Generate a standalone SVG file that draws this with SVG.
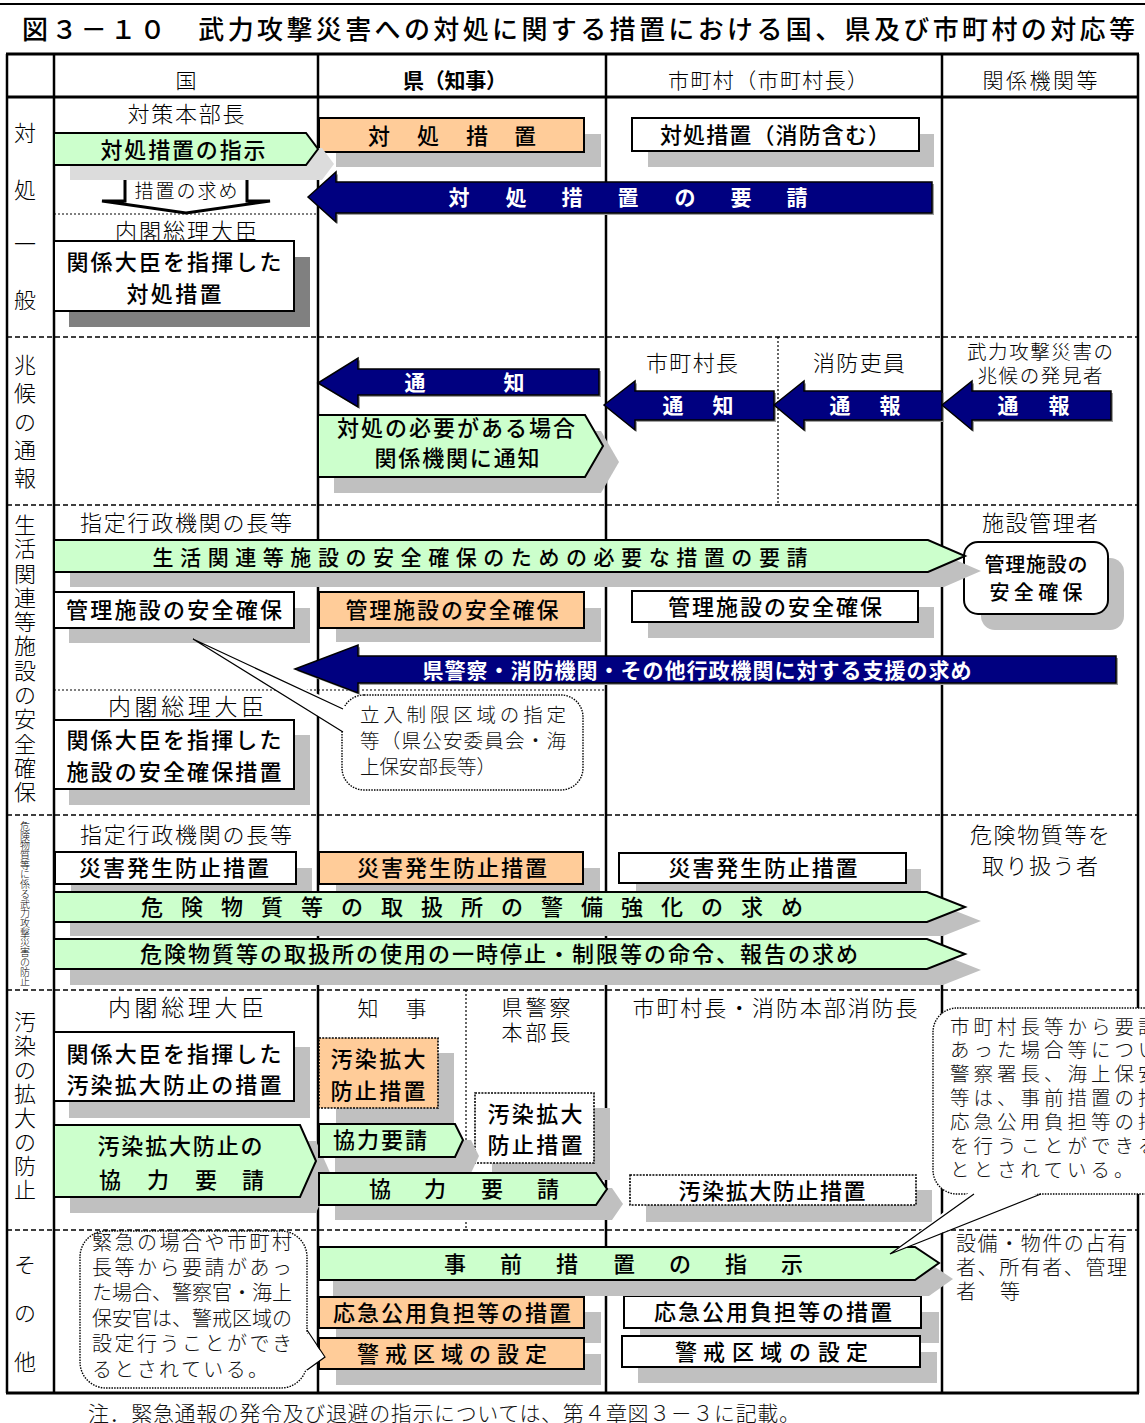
<svg xmlns="http://www.w3.org/2000/svg" width="1145" height="1423" viewBox="0 0 1145 1423">
<defs>
<style>
text{font-family:"Liberation Sans","Noto Sans CJK JP",sans-serif;dominant-baseline:central}
.t{font-size:22px;font-weight:300;text-anchor:middle;fill:#000}
.s{font-size:19.5px;font-weight:300;fill:#111}
.b{font-size:21px;font-weight:500;text-anchor:middle;fill:#000}
.w{font-size:21px;font-weight:700;text-anchor:middle;fill:#fff}
.v{font-size:22px;font-weight:300;text-anchor:middle;fill:#000}
.sh{fill:#c0c0c0}
.sh2{fill:#808080}
.sh3{fill:#dcdcdc}
.nvs{fill:#a0a0a0}
.g{fill:#ccffcc;stroke:#000;stroke-width:2}
.o{fill:#ffcc99;stroke:#000;stroke-width:2}
.wb{fill:#fff;stroke:#000;stroke-width:2}
.od{fill:#ffcc99;stroke:#000;stroke-width:1.6;stroke-dasharray:2 1.2}
.wd{fill:#fff;stroke:#000;stroke-width:1.6;stroke-dasharray:2 1.2}
.nv{fill:#000080;stroke:#000;stroke-width:1.5}
.cl{fill:#fff;stroke:#000;stroke-width:1.4;stroke-dasharray:1.5 1.2}
.pl{fill:none;stroke:#000;stroke-width:1.2}
.col{stroke:#000;stroke-width:2.5}
.dash{stroke:#000;stroke-width:1.5;stroke-dasharray:5 3}
.dot{stroke:#000;stroke-width:1.2;stroke-dasharray:2 2}
</style>
</defs>
<rect x="0" y="0" width="1145" height="1423" fill="#fff"/>

<g id="title">
<line x1="0" y1="4" x2="1145" y2="4" stroke="#000" stroke-width="2"/>
<text x="22" y="30" style="font-size:26px;font-weight:500" textLength="1113">図３－１０　武力攻撃災害への対処に関する措置における国、県及び市町村の対応等</text>
</g>

<g id="grid">
<line class="dash" x1="7" y1="337" x2="1138" y2="337"/>
<line class="dash" x1="7" y1="505" x2="1138" y2="505"/>
<line class="dash" x1="7" y1="815" x2="1138" y2="815"/>
<line class="dash" x1="7" y1="990" x2="1138" y2="990"/>
<line class="dash" x1="7" y1="1230" x2="1138" y2="1230"/>
<line class="dot" x1="54" y1="214" x2="318" y2="214"/>
<line class="dot" x1="54" y1="690" x2="606" y2="690"/>
<line class="dot" x1="778" y1="337" x2="778" y2="505"/>
<line class="dot" x1="466" y1="990" x2="466" y2="1230"/>
<line class="col" x1="7" y1="54" x2="7" y2="1393"/>
<line class="col" x1="54" y1="54" x2="54" y2="1393"/>
<line class="col" x1="318" y1="54" x2="318" y2="1393"/>
<line class="col" x1="606" y1="54" x2="606" y2="1393"/>
<line class="col" x1="942" y1="54" x2="942" y2="1393"/>
<line class="col" x1="1138" y1="54" x2="1138" y2="1393"/>
<line x1="6" y1="54" x2="1139" y2="54" stroke="#000" stroke-width="3"/>
<line x1="6" y1="97" x2="1139" y2="97" stroke="#000" stroke-width="3"/>
<line x1="6" y1="1393" x2="1139" y2="1393" stroke="#000" stroke-width="3"/>
</g>

<g id="headers">
<text class="t" x="186" y="80" style="font-size:21px">国</text>
<text class="t" x="455" y="80" style="font-size:21px;font-weight:700" textLength="104">県（知事）</text>
<text class="t" x="768" y="80" style="font-size:21px" textLength="200">市町村（市町村長）</text>
<text class="t" x="1040" y="80" style="font-size:21px" textLength="115">関係機関等</text>
</g>

<g id="row-labels">
<text class="v" x="25" y="133">対</text>
<text class="v" x="25" y="190">処</text>
<text class="v" x="25" y="244">一</text>
<text class="v" x="25" y="300">般</text>
<text class="v" x="25" y="365">兆</text>
<text class="v" x="25" y="393">候</text>
<text class="v" x="25" y="422">の</text>
<text class="v" x="25" y="450">通</text>
<text class="v" x="25" y="478">報</text>
<text class="v" x="25" y="525">生</text>
<text class="v" x="25" y="549">活</text>
<text class="v" x="25" y="574">関</text>
<text class="v" x="25" y="598">連</text>
<text class="v" x="25" y="622">等</text>
<text class="v" x="25" y="646">施</text>
<text class="v" x="25" y="671">設</text>
<text class="v" x="25" y="695">の</text>
<text class="v" x="25" y="719">安</text>
<text class="v" x="25" y="744">全</text>
<text class="v" x="25" y="768">確</text>
<text class="v" x="25" y="792">保</text>
<g style="font-size:10px">
<text class="v" style="font-size:10px" x="25" y="826">危</text>
<text class="v" style="font-size:10px" x="25" y="836">険</text>
<text class="v" style="font-size:10px" x="25" y="845">物</text>
<text class="v" style="font-size:10px" x="25" y="855">質</text>
<text class="v" style="font-size:10px" x="25" y="865">等</text>
<text class="v" style="font-size:10px" x="25" y="874">に</text>
<text class="v" style="font-size:10px" x="25" y="884">係</text>
<text class="v" style="font-size:10px" x="25" y="894">る</text>
<text class="v" style="font-size:10px" x="25" y="904">武</text>
<text class="v" style="font-size:10px" x="25" y="913">力</text>
<text class="v" style="font-size:10px" x="25" y="923">攻</text>
<text class="v" style="font-size:10px" x="25" y="933">撃</text>
<text class="v" style="font-size:10px" x="25" y="942">災</text>
<text class="v" style="font-size:10px" x="25" y="952">害</text>
<text class="v" style="font-size:10px" x="25" y="962">の</text>
<text class="v" style="font-size:10px" x="25" y="972">防</text>
<text class="v" style="font-size:10px" x="25" y="981">止</text>
</g>
<text class="v" x="25" y="1022">汚</text>
<text class="v" x="25" y="1046">染</text>
<text class="v" x="25" y="1070">の</text>
<text class="v" x="25" y="1094">拡</text>
<text class="v" x="25" y="1118">大</text>
<text class="v" x="25" y="1142">の</text>
<text class="v" x="25" y="1166">防</text>
<text class="v" x="25" y="1190">止</text>
<text class="v" x="25" y="1265">そ</text>
<text class="v" x="25" y="1313">の</text>
<text class="v" x="25" y="1362">他</text>
</g>

<g id="role-labels">
<text class="t" x="186" y="114" textLength="117">対策本部長</text>
<text class="t" x="186" y="231" textLength="142">内閣総理大臣</text>
<text class="t" x="692" y="363" textLength="92">市町村長</text>
<text class="t" x="859" y="363" textLength="92">消防吏員</text>
<text class="t" x="1040" y="352" style="font-size:19.5px" textLength="146">武力攻撃災害の</text>
<text class="t" x="1040" y="376" style="font-size:19.5px" textLength="125">兆候の発見者</text>
<text class="t" x="186" y="523" textLength="212">指定行政機関の長等</text>
<text class="t" x="1040" y="523" textLength="116">施設管理者</text>
<text class="t" x="186" y="707" style="font-size:23px" textLength="156">内閣総理大臣</text>
<text class="t" x="186" y="835" textLength="212">指定行政機関の長等</text>
<text class="t" x="1040" y="835" textLength="140">危険物質等を</text>
<text class="t" x="1040" y="866" textLength="116">取り扱う者</text>
<text class="t" x="186" y="1008" style="font-size:23px" textLength="156">内閣総理大臣</text>
<text class="t" x="368 416" y="1008" style="font-size:21px">知事</text>
<text class="t" x="536" y="1007" style="font-size:21px" textLength="69">県警察</text>
<text class="t" x="536" y="1032" style="font-size:21px" textLength="69">本部長</text>
<text class="t" x="775" y="1008" textLength="285">市町村長・消防本部消防長</text>
<text class="s" x="956" y="1244" style="font-size:20px" textLength="171">設備・物件の占有</text>
<text class="s" x="956" y="1268" style="font-size:20px" textLength="171">者、所有者、管理</text>
<text class="s" x="956 1000" y="1292" style="font-size:20px">者等</text>
</g>

<g id="node-kuni-sochi-motome">
<path class="wb" style="stroke-width:3" d="M125,160 V201 H102 L186,213 L270,201 H247 V160 Z"/>
<text class="t" x="186" y="191" style="font-size:19px" textLength="103">措置の求め</text>
</g>

<g id="node-kuni-taisho">
<rect class="sh2" x="69" y="257" width="241" height="70"/>
<rect class="wb" x="54" y="241" width="240" height="70"/>
<text class="b" x="174" y="262" style="font-size:22px" textLength="215">関係大臣を指揮した</text>
<text class="b" x="174" y="294" style="font-size:22px" textLength="95">対処措置</text>
</g>

<g id="node-ken-taisho">
<rect class="sh" x="336" y="134" width="265" height="33"/>
<rect class="o" x="319" y="118" width="265" height="34"/>
<text class="b" x="379 428 477 525" y="136" style="font-size:22px">対処措置</text>
</g>

<g id="node-shi-taisho">
<rect class="sh" x="648" y="134" width="286" height="33"/>
<rect class="wb" x="632" y="118" width="287" height="33"/>
<text class="b" x="775" y="135" style="font-size:22px" textLength="230">対処措置（消防含む）</text>
</g>

<g id="node-kuni-kanri">
<rect class="sh" x="69" y="608" width="241" height="35"/>
<rect class="wb" x="54" y="592" width="240" height="36"/>
<text class="b" x="174" y="610" style="font-size:22px" textLength="216">管理施設の安全確保</text>
</g>
<g id="node-ken-kanri">
<rect class="sh" x="336" y="608" width="265" height="34"/>
<rect class="o" x="319" y="592" width="265" height="36"/>
<text class="b" x="452" y="610" style="font-size:22px" textLength="213">管理施設の安全確保</text>
</g>
<g id="node-shi-kanri">
<rect class="sh" x="648" y="607" width="286" height="31"/>
<rect class="wb" x="632" y="591" width="286" height="31"/>
<text class="b" x="775" y="607" style="font-size:22px" textLength="214">管理施設の安全確保</text>
</g>
<g id="node-kankei-kanri">
<rect class="sh" x="981" y="558" width="143" height="72" rx="14"/>
<rect class="wb" x="964" y="542" width="144" height="72" rx="14"/>
<text class="b" x="1036" y="565" style="font-size:20px" textLength="103">管理施設の</text>
<text class="b" x="1036" y="593" style="font-size:20px" textLength="93">安全確保</text>
</g>
<g id="node-kuni-shisetsu">
<rect class="sh" x="69" y="735" width="241" height="70"/>
<rect class="wb" x="54" y="720" width="240" height="69"/>
<text class="b" x="174" y="740" style="font-size:22px" textLength="215">関係大臣を指揮した</text>
<text class="b" x="174" y="772" style="font-size:22px" textLength="215">施設の安全確保措置</text>
</g>

<g id="node-kuni-saigai">
<rect class="sh" x="71" y="868" width="241" height="32"/>
<rect class="wb" x="55" y="852" width="241" height="32"/>
<text class="b" x="174" y="868" style="font-size:22px" textLength="190">災害発生防止措置</text>
</g>
<g id="node-ken-saigai">
<rect class="sh" x="336" y="868" width="264" height="32"/>
<rect class="o" x="319" y="852" width="264" height="32"/>
<text class="b" x="452" y="868" style="font-size:22px" textLength="190">災害発生防止措置</text>
</g>
<g id="node-shi-saigai">
<rect class="sh" x="636" y="869" width="285" height="30"/>
<rect class="wb" x="619" y="853" width="287" height="30"/>
<text class="b" x="763" y="868" style="font-size:22px" textLength="189">災害発生防止措置</text>
</g>

<g id="node-kuni-osen">
<rect class="sh" x="69" y="1047" width="241" height="71"/>
<rect class="wb" x="54" y="1032" width="240" height="69"/>
<text class="b" x="174" y="1054" style="font-size:22px" textLength="215">関係大臣を指揮した</text>
<text class="b" x="174" y="1085" style="font-size:22px" textLength="215">汚染拡大防止の措置</text>
</g>
<g id="node-ken-osen">
<rect class="sh" x="336" y="1053" width="118" height="71"/>
<rect class="od" x="319" y="1038" width="119" height="70"/>
<text class="b" x="378" y="1059" style="font-size:22px" textLength="95">汚染拡大</text>
<text class="b" x="378" y="1091" style="font-size:22px" textLength="95">防止措置</text>
</g>
<g id="node-keisatsu-osen">
<rect class="sh" x="492" y="1108" width="118" height="72"/>
<rect class="wd" x="475" y="1093" width="119" height="70"/>
<text class="b" x="535" y="1114" style="font-size:22px" textLength="95">汚染拡大</text>
<text class="b" x="535" y="1145" style="font-size:22px" textLength="95">防止措置</text>
</g>
<g id="node-shi-osen">
<rect class="sh" x="646" y="1190" width="286" height="32"/>
<rect class="wd" x="630" y="1175" width="286" height="30"/>
<text class="b" x="772" y="1191" style="font-size:22px" textLength="187">汚染拡大防止措置</text>
</g>

<g id="node-ken-oukyu">
<rect class="sh" x="336" y="1312" width="265" height="31"/>
<rect class="o" x="319" y="1297" width="265" height="31"/>
<text class="b" x="452" y="1313" style="font-size:22px" textLength="238">応急公用負担等の措置</text>
</g>
<g id="node-ken-keikai">
<rect class="sh" x="336" y="1354" width="265" height="31"/>
<rect class="o" x="319" y="1338" width="265" height="31"/>
<text class="b" x="368 396 424 452 480 508 536" y="1354" style="font-size:22px">警戒区域の設定</text>
</g>
<g id="node-shi-oukyu">
<rect class="sh" x="640" y="1312" width="299" height="31"/>
<rect class="wb" x="624" y="1296" width="297" height="32"/>
<text class="b" x="773" y="1312" style="font-size:22px" textLength="238">応急公用負担等の措置</text>
</g>
<g id="node-shi-keikai">
<rect class="sh" x="638" y="1352" width="299" height="31"/>
<rect class="wb" x="622" y="1336" width="298" height="31"/>
<text class="b" x="686 714 743 771 800 829 857" y="1352" style="font-size:22px">警戒区域の設定</text>
</g>

<g id="connectors">
<g id="arrow-shiji">
<path class="sh3" transform="translate(16,15)" d="M54,133 H306 L318,149 L306,165 H54 Z"/>
<path class="g" d="M54,133 H306 L318,149 L306,165 H54 Z"/>
<text class="b" x="183" y="150" style="font-size:22px" textLength="165">対処措置の指示</text>
</g>
<g id="arrow-yousei">
<path class="nvs" transform="translate(2,2)" d="M308,197 L336,172 V182 H932 V213 H336 V222 Z"/>
<path class="nv" d="M308,197 L336,172 V182 H932 V213 H336 V222 Z"/>
<text class="w" x="459 516 572 628 685 741 797" y="197">対処措置の要請</text>
</g>
<g id="arrow-ken-tsuchi">
<path class="nvs" transform="translate(2,2)" d="M318,383 L358,358 V369 H599 V395 H358 V407 Z"/>
<path class="nv" d="M318,383 L358,358 V369 H599 V395 H358 V407 Z"/>
<text class="w" x="415 514" y="382">通知</text>
</g>
<g id="arrow-ken-kankei">
<path class="sh" transform="translate(16,16)" d="M318,415 H585 L603,446 L585,477 H318 Z"/>
<path class="g" d="M318,415 H585 L603,446 L585,477 H318 Z"/>
<text class="b" x="456" y="428" style="font-size:22px" textLength="238">対処の必要がある場合</text>
<text class="b" x="457" y="458" style="font-size:22px" textLength="165">関係機関に通知</text>
</g>
<g id="arrow-shi-tsuchi">
<path class="nvs" transform="translate(2,2)" d="M604,405 L635,381 V391 H774 V420 H635 V430 Z"/>
<path class="nv" d="M604,405 L635,381 V391 H774 V420 H635 V430 Z"/>
<text class="w" x="673 723" y="405">通知</text>
</g>
<g id="arrow-shobo-tsuho">
<path class="nvs" transform="translate(2,2)" d="M774,405 L804,381 V391 H942 V420 H804 V430 Z"/>
<path class="nv" d="M774,405 L804,381 V391 H942 V420 H804 V430 Z"/>
<text class="w" x="840 890" y="405">通報</text>
</g>
<g id="arrow-hakken-tsuho">
<path class="nvs" transform="translate(2,2)" d="M942,405 L972,381 V391 H1111 V420 H972 V430 Z"/>
<path class="nv" d="M942,405 L972,381 V391 H1111 V420 H972 V430 Z"/>
<text class="w" x="1008 1059" y="405">通報</text>
</g>
<g id="arrow-seikatsu">
<path class="sh" transform="translate(16,15)" d="M54,540 H928 L965,556 L928,572 H54 Z"/>
<path class="g" d="M54,540 H928 L965,556 L928,572 H54 Z"/>
<text class="b" x="152.5" y="557" style="font-size:21px;text-anchor:start" textLength="655">生活関連等施設の安全確保のための必要な措置の要請</text>
</g>
<g id="arrow-shien">
<path class="nvs" transform="translate(2,2)" d="M295,669 L358,645 V656 H1116 V683 H358 V693 Z"/>
<path class="nv" d="M295,669 L358,645 V656 H1116 V683 H358 V693 Z"/>
<text class="w" x="697" y="670" textLength="549">県警察・消防機関・その他行政機関に対する支援の求め</text>
</g>
<g id="arrow-keibi">
<path class="sh" transform="translate(16,14)" d="M54,892 H927 L965,907 L927,922 H54 Z"/>
<path class="g" d="M54,892 H927 L965,907 L927,922 H54 Z"/>
<text class="b" x="152 192 232 272 312 352 392 432 472 512 552 592 632 672 712 752 792" y="907" style="font-size:22px">危険物質等の取扱所の警備強化の求め</text>
</g>
<g id="arrow-meirei">
<path class="sh" transform="translate(16,16)" d="M54,939 H927 L965,954 L927,969 H54 Z"/>
<path class="g" d="M54,939 H927 L965,954 L927,969 H54 Z"/>
<text class="b" x="499" y="954" style="font-size:22px" textLength="718">危険物質等の取扱所の使用の一時停止・制限等の命令、報告の求め</text>
</g>
<g id="arrow-kuni-kyoryoku">
<path class="sh" transform="translate(16,16)" d="M54,1125 H300 L316,1161 L300,1197 H54 Z"/>
<path class="g" d="M54,1125 H300 L316,1161 L300,1197 H54 Z"/>
<text class="b" x="180" y="1146" style="font-size:22px" textLength="165">汚染拡大防止の</text>
<text class="b" x="110 158 206 253" y="1180" style="font-size:22px">協力要請</text>
</g>
<g id="arrow-ken-kyoryoku1">
<path class="sh" transform="translate(16,16)" d="M319,1124 H455 L463,1140 L455,1157 H319 Z"/>
<path class="g" d="M319,1124 H455 L463,1140 L455,1157 H319 Z"/>
<text class="b" x="380" y="1140" style="font-size:22px" textLength="94">協力要請</text>
</g>
<g id="arrow-ken-kyoryoku2">
<path class="sh" transform="translate(16,15)" d="M319,1173 H596 L607,1189 L596,1205 H319 Z"/>
<path class="g" d="M319,1173 H596 L607,1189 L596,1205 H319 Z"/>
<text class="b" x="380 435 492 548" y="1189" style="font-size:22px">協力要請</text>
</g>
<g id="arrow-jizen">
<path class="sh" transform="translate(14,16)" d="M319,1247 H915 L939,1263 L915,1280 H319 Z"/>
<path class="g" d="M319,1247 H915 L939,1263 L915,1280 H319 Z"/>
<text class="b" x="455 511 567 624 680 736 792" y="1264" style="font-size:22px">事前措置の指示</text>
</g>
</g>

<g id="callout-kuiki">
<rect class="cl" x="342" y="695" width="241" height="95" rx="22"/>
<polygon points="193,639 347,707 347,734" fill="#fff"/>
<polyline class="pl" points="343,709 193,639 343,732"/>
<text class="s" x="360" y="715" textLength="206">立入制限区域の指定</text>
<text class="s" x="360" y="741" textLength="206">等（県公安委員会・海</text>
<text class="s" x="360" y="767" textLength="136">上保安部長等）</text>
</g>

<g id="callout-keikai">
<rect class="cl" x="80" y="1231" width="227" height="157" rx="26"/>
<polygon points="304,1329 325,1357 304,1371" fill="#fff"/>
<polyline class="pl" points="307,1330 325,1357 307,1370"/>
<text class="s" x="92" y="1243" style="font-size:20px" textLength="200">緊急の場合や市町村</text>
<text class="s" x="92" y="1268" style="font-size:20px" textLength="200">長等から要請があっ</text>
<text class="s" x="92" y="1293" style="font-size:20px" textLength="200">た場合、警察官・海上</text>
<text class="s" x="92" y="1319" style="font-size:20px" textLength="200">保安官は、警戒区域の</text>
<text class="s" x="92" y="1344" style="font-size:20px" textLength="200">設定行うことができ</text>
<text class="s" x="92" y="1370" style="font-size:20px" textLength="176">るとされている。</text>
</g>

<g id="callout-jizen">
<rect class="cl" x="933" y="1008" width="240" height="186" rx="24"/>
<polygon points="971,1191 1044,1191 890,1254" fill="#fff"/>
<polyline class="pl" points="974,1194 890,1254 1041,1194"/>
<g style="letter-spacing:4px">
<text class="s" x="950" y="1027">市町村長等から要請</text>
<text class="s" x="950" y="1050">あった場合等につい</text>
<text class="s" x="950" y="1074">警察署長、海上保安部</text>
<text class="s" x="950" y="1098">等は、事前措置の指示</text>
<text class="s" x="950" y="1122">応急公用負担等の措置</text>
<text class="s" x="950" y="1146">を行うことができる</text>
<text class="s" x="950" y="1170">ととされている。</text>
</g>
</g>

<g id="footnote">
<text class="s" x="88" y="1413" style="font-size:21px" textLength="712">注．緊急通報の発令及び退避の指示については、第４章図３－３に記載。</text>
</g>
</svg>
